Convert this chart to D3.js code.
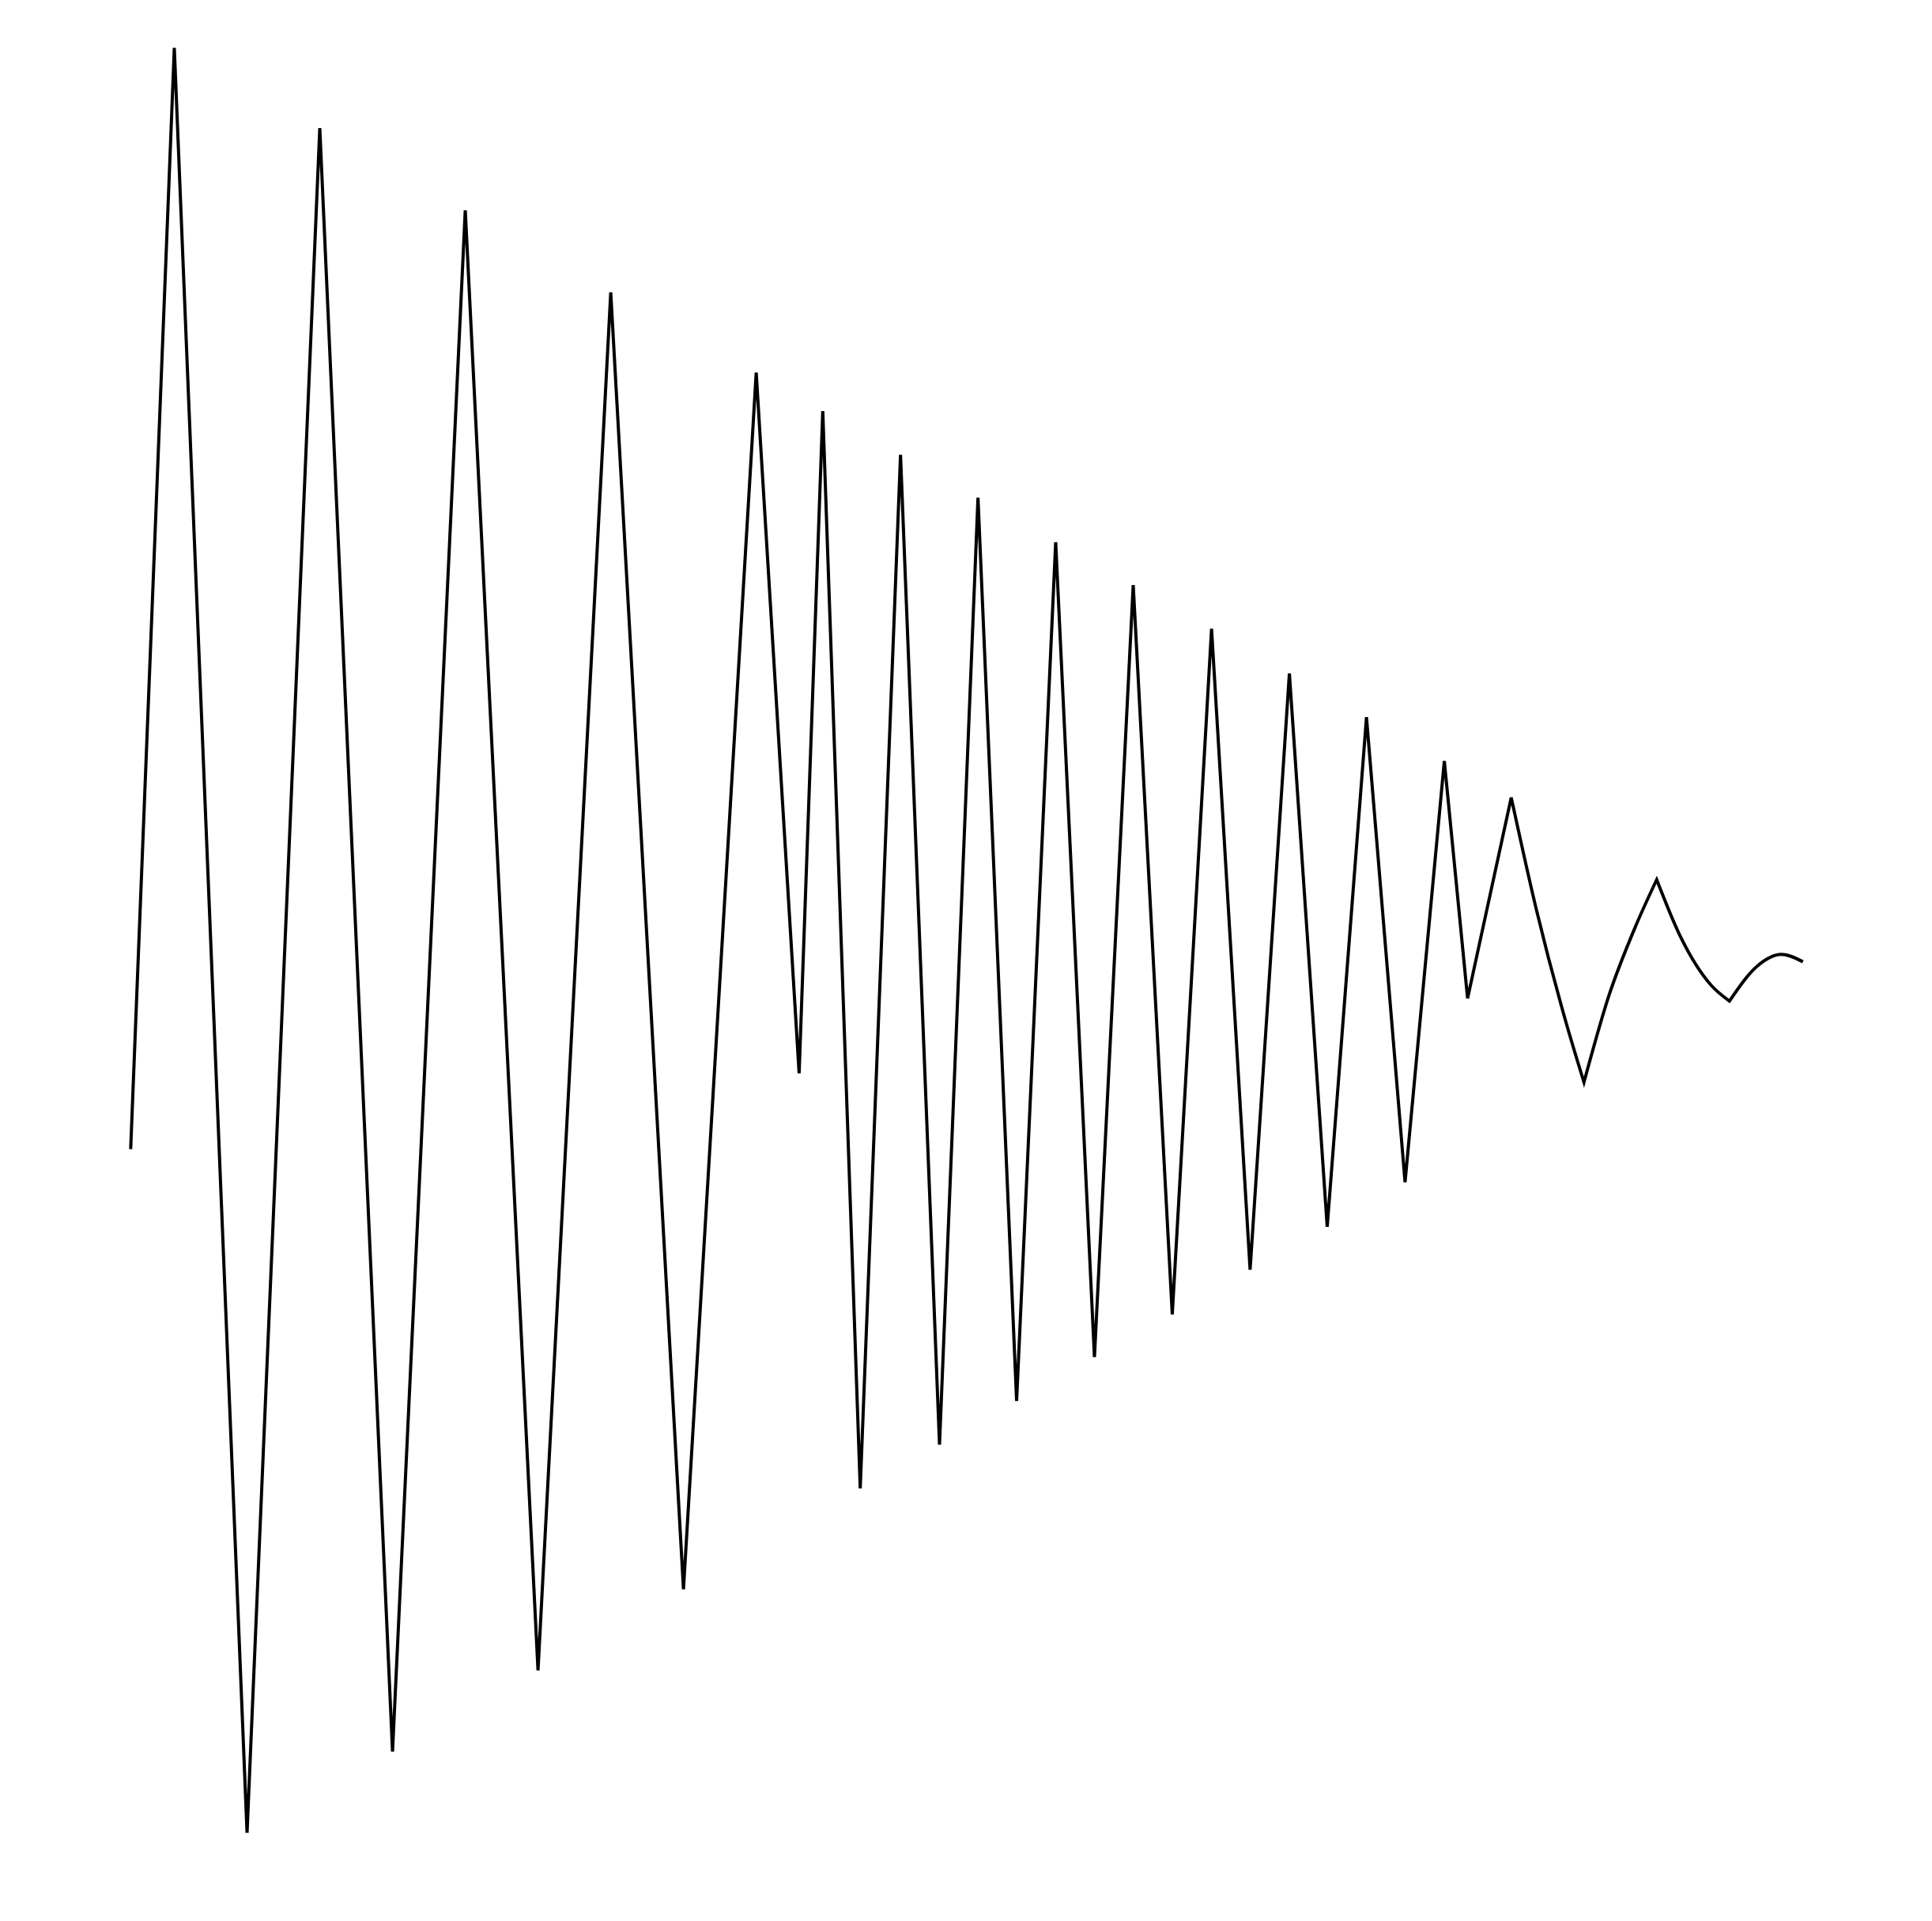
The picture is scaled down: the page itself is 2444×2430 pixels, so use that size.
<!DOCTYPE html>
<html>
<head>
<meta charset="utf-8">
<script src="https://cdn.jsdelivr.net/npm/d3@7"></script>
<style>
    html, body { margin: 0; padding: 0; background: #fff; }
    svg { display: block; }
    .trace { fill: none; stroke: #000; stroke-width: 4; }
</style>
</head>
<body>
<div id="chart"></div>
<script>
// DATA
// sharp turning points of the trace (time, value)
const vertexT = [0, 0.6, 1.6, 2.6, 3.6, 4.6, 5.6, 6.6, 7.6, 8.6,
    9.19, 9.515, 10.03, 10.584, 11.12, 11.649, 12.18, 12.717, 13.25, 13.783,
    14.32, 14.86, 15.39, 15.93, 16.45, 16.99, 17.52, 18.06, 18.38, 18.98,
    19.98, 20.98, 21.98, 22.99];
const vertexV = [-23.4, 100, -100, 91.0, -90.9, 81.8, -81.8, 72.6, -72.7, 63.6,
    -14.9, 59.3, -61.4, 54.4, -56.5, 49.6, -51.6, 44.6, -46.7, 39.8,
    -41.9, 34.9, -36.9, 29.9, -32.1, 25.0, -27.1, 20.1, -6.5, 16.0,
    -15.9, 6.8, -6.8, -2.4];

// readings inside the bent segments at the end
const bendT = [19.324, 19.723, 20.321, 20.682, 21.299, 21.733, 22.367, 22.693];
const bendV = [3.50, -8.90, -6.24, 1.43, 0.55, -5.07, -2.85, -1.58];

// VARIABLES
const width = 2444;
const height = 2430;
const margin = {top: 60.5, right: 163.3, bottom: 111.5, left: 165.3};

// CHART SETUP
const xScale = d3.scaleLinear()
    .domain([0, 22.99])
    .range([margin.left, width - margin.right]);

const yScale = d3.scaleLinear()
    .domain([-100, 100])
    .range([height - margin.bottom, margin.top]);

const svg = d3.select("#chart")
    .append("svg")
    .attr("width", width)
    .attr("height", height);

const points = vertexT.map((t, i) => ({t, v: vertexV[i], corner: true}))
    .concat(bendT.map((t, i) => ({t, v: bendV[i], corner: false})))
    .sort((a, b) => a.t - b.t);

// split into runs between corners so each bend is smooth but corners stay sharp
const runs = [];
let run = [points[0]];
points.slice(1).forEach(p => {
    run.push(p);
    if (p.corner) {
        runs.push(run);
        run = [p];
    }
});

const path = d3.path();
let started = false;
const ctx = {
    moveTo(x, y) {
        if (!started) {
            path.moveTo(x, y);
            started = true;
        }
    },
    lineTo: (x, y) => path.lineTo(x, y),
    bezierCurveTo: (a, b, c, d, e, f) => path.bezierCurveTo(a, b, c, d, e, f),
    closePath: () => path.closePath()
};

const line = d3.line()
    .x(d => xScale(d.t))
    .y(d => yScale(d.v))
    .curve(d3.curveMonotoneX)
    .context(ctx);

runs.forEach(r => line(r));

svg.append("path")
    .classed("trace", true)
    .attr("d", path.toString());
</script>
</body>
</html>
